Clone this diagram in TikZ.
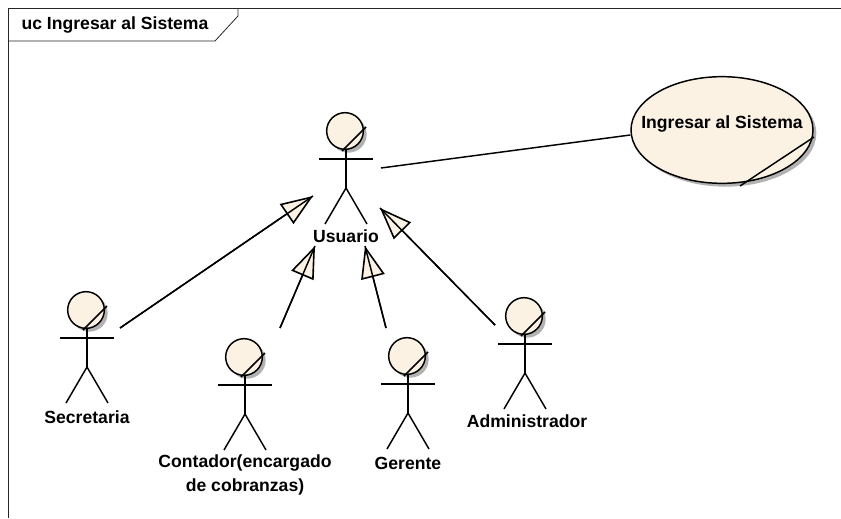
\documentclass[tikz,border=0pt]{standalone}
\usepackage{fontspec}
\setmainfont{Liberation Sans}
\usetikzlibrary{arrows.meta,shapes.geometric,shadows}
\definecolor{cream}{HTML}{FBF2E3}
\begin{document}
\begin{tikzpicture}[x=0.75pt, y=-0.75pt, line width=1.1pt]
    \tikzset{
        every node/.style={font=\fontsize{13.2}{18}\selectfont\bfseries, align=center},
        softshadow/.style={drop shadow={shadow xshift=2.5pt, shadow yshift=-2.5pt, fill=black!30, opacity=1}},
        head/.style={draw, circle, fill=cream, softshadow, inner sep=0pt, minimum size=27.5pt},
        usecase/.style={draw, ellipse, fill=cream, softshadow, inner sep=0pt, minimum width=136.5pt, minimum height=80pt},
        assoc/.style={draw},
        gen/.style={-{Triangle[open, length=24pt, width=18pt, fill=cream, line width=1.2pt]}},
        actor/.pic={
            \node (-head) [head] at (0,0) {};
            \draw (21,-4) -- (-3,20);
            \draw (-26,28) -- (28,28);
            \draw (1,19) -- (1,57) coordinate (-hip);
            \draw (-20,93) -- (-hip) -- (22,93);
        }
    }
    \useasboundingbox (0,0) rectangle (841,518);

    %frame
    \draw[line width=0.6pt, black!85] (8,518) -- (8,8) -- (841,8);
    \draw[line width=0.6pt, black!85] (8,41) -- (215,41) -- (238,16) -- (238,8);
    \node (frametitle) at (115,25) {uc Ingresar al Sistema};

    %actors
    \pic (usuario) at (345,131) {actor};
    \pic (secretaria) at (86,310) {actor};
    \pic (contador) at (244,357) {actor};
    \pic (gerente) at (407,356) {actor};
    \pic (admin) at (524,316) {actor};

    \node (usuariolabel) at (346,236) {Usuario};
    \node (secretarialabel) at (87,417) {Secretaria};
    \node (contadorlabel) at (245,475) {Contador(encargado\\de cobranzas)};
    \node (gerentelabel) at (408,463) {Gerente};
    \node (adminlabel) at (527,421) {Administrador};

    %use case
    \node (ingresar) [usecase] at (722,130) {};
    \draw (814,137) -- (740,186);
    \node (ingresarlabel) at (722,124) {Ingresar al Sistema};

    %connector ends
    \coordinate (usuarioright) at (381,168);
    \coordinate (secretariaout) at (120,328);
    \coordinate (secretariatip) at (313,196);
    \coordinate (contadorout) at (280,328);
    \coordinate (contadortip) at (315,246);
    \coordinate (gerenteout) at (386,328);
    \coordinate (gerentetip) at (365,246);
    \coordinate (adminout) at (495,325);
    \coordinate (admintip) at (380,208);

    \draw[assoc] (usuarioright) -- (ingresar.west |- 0,135);

    \draw[gen] (secretariaout) -- (secretariatip);
    \draw[gen] (contadorout) -- (contadortip);
    \draw[gen] (gerenteout) -- (gerentetip);
    \draw[gen] (adminout) -- (admintip);

    % shafts over the heads
    \draw (secretariaout) -- (secretariatip);
    \draw (contadorout) -- (contadortip);
    \draw (gerenteout) -- (gerentetip);
    \draw (adminout) -- (admintip);
\end{tikzpicture}
\end{document}
